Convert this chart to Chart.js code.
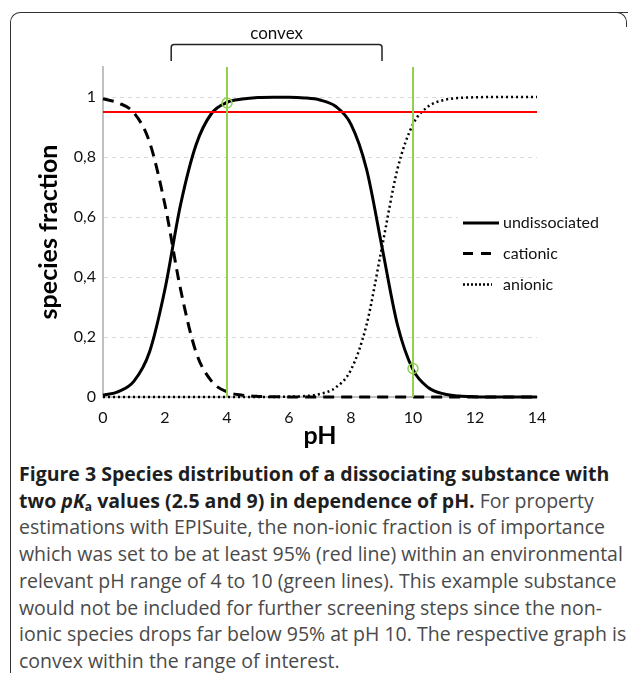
<!DOCTYPE html>
<html><head><meta charset="utf-8">
<script src="https://cdn.jsdelivr.net/npm/chart.js@4.4.0/dist/chart.umd.min.js"></script>
<style>
html,body{margin:0;padding:0;width:630px;height:673px;overflow:hidden;background:#fff;}
#frame{position:absolute;left:10px;top:12px;width:617px;height:700px;border-left:1.5px solid #333;border-top:1.5px solid #333;border-top-left-radius:10px;}
#corner{position:absolute;left:608px;top:12px;width:18px;height:14px;border-top:1.5px solid #333;border-right:1.5px solid #333;border-top-right-radius:10px;}
#wrap{position:absolute;left:0;top:0;width:630px;height:460px;}
#cap{position:absolute;left:19px;top:461px;font-family:'Open Sans',sans-serif;font-size:19.5px;line-height:26.7px;color:#4a4a4a;white-space:nowrap;}
#cap b{color:#1e1e1e;font-weight:bold;}
#cap sub{font-size:12px;vertical-align:-3px;line-height:0;}
</style></head>
<body>
<div id="frame"></div><div id="corner"></div>
<div id="wrap"><canvas id="c" width="630" height="460"></canvas></div>
<div id="cap">
<b>Figure 3 Species distribution of a dissociating substance with</b><br>
<b>two <i>pK</i><sub>a</sub> values (2.5 and 9) in dependence of pH.</b> For property<br>
estimations with EPISuite, the non-ionic fraction is of importance<br>
which was set to be at least 95% (red line) within an environmental<br>
relevant pH range of 4 to 10 (green lines). This example substance<br>
would not be included for further screening steps since the non-<br>
ionic species drops far below 95% at pH 10. The respective graph is<br>
convex within the range of interest.
</div>
<script>
// ---- data ----
const pH = [0,0.5,1,1.5,2,2.5,3,3.5,4,4.5,5,5.5,6,6.5,7,7.5,8,8.5,9,9.5,10,10.5,11,11.5,12,12.5,13,13.5,14];
const undissociated = [0.006,0.018,0.053,0.15,0.36,0.64,0.84,0.945,0.982,0.993,0.998,0.999,0.999,0.997,0.99,0.969,0.909,0.76,0.5,0.24,0.091,0.031,0.01,0.003,0.001,0,0,0,0];
const cationic = [0.994,0.98,0.947,0.85,0.64,0.36,0.15,0.053,0.017,0.006,0.002,0.001,0,0,0,0,0,0,0,0,0,0,0,0,0,0,0,0,0];
const anionic = [0,0,0,0,0,0,0,0,0,0,0,0,0.001,0.003,0.01,0.031,0.091,0.24,0.5,0.76,0.909,0.969,0.99,0.997,0.999,1,1,1,1];
const seriesNames = ['undissociated','cationic','anionic'];
const xTicks = [0,2,4,6,8,10,12,14];
const yTicks = [0,0.2,0.4,0.6,0.8,1];
const thresholdFraction = 0.95;
const thresholdLabel = '95%';
const rangePH = [4,10];
const markerPH = [4,10];
const markerFraction = [0.98,0.095];
const convexRange = [2.2,9.0];
const convexLabel = 'convex';
const xTitle = 'pH';
const yTitle = 'species fraction';

const FONT = 'Lato';
const GREEN = '#92d050';
const toPts = ys => pH.map((x,i)=>({x:x,y:ys[i]}));

const curveBase = {pointRadius:0, borderColor:'#000', borderWidth:3, cubicInterpolationMode:'monotone', fill:false, clip:false};

const datasets = [
  {label:'markers', data: markerPH.map((x,i)=>({x:x,y:markerFraction[i]})), showLine:false, pointRadius:5, pointBorderWidth:1.5, pointBorderColor:GREEN, pointBackgroundColor:'rgba(0,0,0,0)', clip:false},
  {label:'range low', data:[{x:rangePH[0],y:0},{x:rangePH[0],y:1.1}], borderColor:GREEN, borderWidth:2, pointRadius:0},
  {label:'range high', data:[{x:rangePH[1],y:0},{x:rangePH[1],y:1.1}], borderColor:GREEN, borderWidth:2, pointRadius:0},
  {label:thresholdLabel, data:[{x:xTicks[0],y:thresholdFraction},{x:xTicks[xTicks.length-1],y:thresholdFraction}], borderColor:'#ff0000', borderWidth:2, pointRadius:0},
  Object.assign({}, curveBase, {label:seriesNames[0], data:toPts(undissociated)}),
  Object.assign({}, curveBase, {label:seriesNames[1], data:toPts(cationic), borderDash:[11,7]}),
  Object.assign({}, curveBase, {label:seriesNames[2], data:toPts(anionic), borderDash:[2,3], borderWidth:2.5})
];

const legendPlugin = {
  id:'customLegend',
  afterDatasetsDraw(chart){
    const ctx = chart.ctx;
    ctx.save();
    ctx.fillStyle = '#fff';
    ctx.fillRect(458, 206, 160, 66);
    const rows = [223, 253.5, 284.5];
    const styles = [
      {dash:[], w:3, x0:463, x1:499},
      {dash:[10,8], w:3, x0:463, x1:491},
      {dash:[2,2], w:2.5, x0:463, x1:492}
    ];
    ctx.font = '16px ' + FONT;
    ctx.textBaseline = 'middle';
    ctx.textAlign = 'left';
    seriesNames.forEach((name,i)=>{
      const s = styles[i];
      ctx.beginPath();
      ctx.setLineDash(s.dash);
      ctx.lineWidth = s.w;
      ctx.strokeStyle = '#000';
      ctx.moveTo(s.x0, rows[i]);
      ctx.lineTo(s.x1, rows[i]);
      ctx.stroke();
      ctx.fillStyle = '#111';
      ctx.fillText(name, 503, rows[i]);
    });
    ctx.restore();
  }
};

const bracketPlugin = {
  id:'bracket',
  afterDraw(chart){
    const ctx = chart.ctx;
    const xs = chart.scales.x;
    const a = xs.getPixelForValue(convexRange[0]);
    const b = xs.getPixelForValue(convexRange[1]);
    const top = 44.5, bot = 61, r = 3;
    ctx.save();
    ctx.strokeStyle = '#222';
    ctx.lineWidth = 1.5;
    ctx.setLineDash([]);
    ctx.beginPath();
    ctx.moveTo(a, bot);
    ctx.lineTo(a, top + r);
    ctx.quadraticCurveTo(a, top, a + r, top);
    ctx.lineTo(b - r, top);
    ctx.quadraticCurveTo(b, top, b, top + r);
    ctx.lineTo(b, bot);
    ctx.stroke();
    ctx.fillStyle = '#111';
    ctx.font = '17px ' + FONT;
    ctx.textAlign = 'center';
    ctx.textBaseline = 'middle';
    ctx.fillText(convexLabel, (a + b) / 2, 34);
    ctx.restore();
  }
};

new Chart(document.getElementById('c'), {
  type:'line',
  data:{datasets:datasets},
  options:{
    responsive:false, animation:false,
    layout:{padding:{left:0,right:93,top:67,bottom:8}},
    plugins:{legend:{display:false}, tooltip:{enabled:false}},
    scales:{
      x:{type:'linear', min:0, max:14,
        afterBuildTicks:s=>{s.ticks = xTicks.map(v=>({value:v}));},
        afterFit:s=>{s.height = 55;},
        ticks:{padding:11, font:{family:FONT,size:16}, color:'#111', maxRotation:0, autoSkip:false},
        grid:{display:false, drawTicks:false},
        border:{display:true, color:'#c0c0c0', width:2},
        title:{display:true, text:xTitle, font:{family:FONT,size:25,weight:'bold'}, color:'#000', padding:{top:0,bottom:1}}
      },
      y:{type:'linear', min:0, max:1.1,
        afterBuildTicks:s=>{s.ticks = yTicks.map(v=>({value:v}));},
        afterFit:s=>{s.width = 103;},
        ticks:{padding:7, font:{family:FONT,size:16}, color:'#111', autoSkip:false,
          callback:v=>String(v).replace('.',',')},
        grid:{drawTicks:false, lineWidth:1, color:c=> (c.tick && c.tick.value>0) ? '#d9d9d9' : 'rgba(0,0,0,0)'},
        border:{display:true, color:'#c0c0c0', width:2, dash:[4,4]},
        title:{display:true, text:yTitle, font:{family:FONT,size:25,weight:'bold'}, color:'#000', padding:{top:34,bottom:0}}
      }
    }
  },
  plugins:[legendPlugin, bracketPlugin]
});
</script>
</body></html>
